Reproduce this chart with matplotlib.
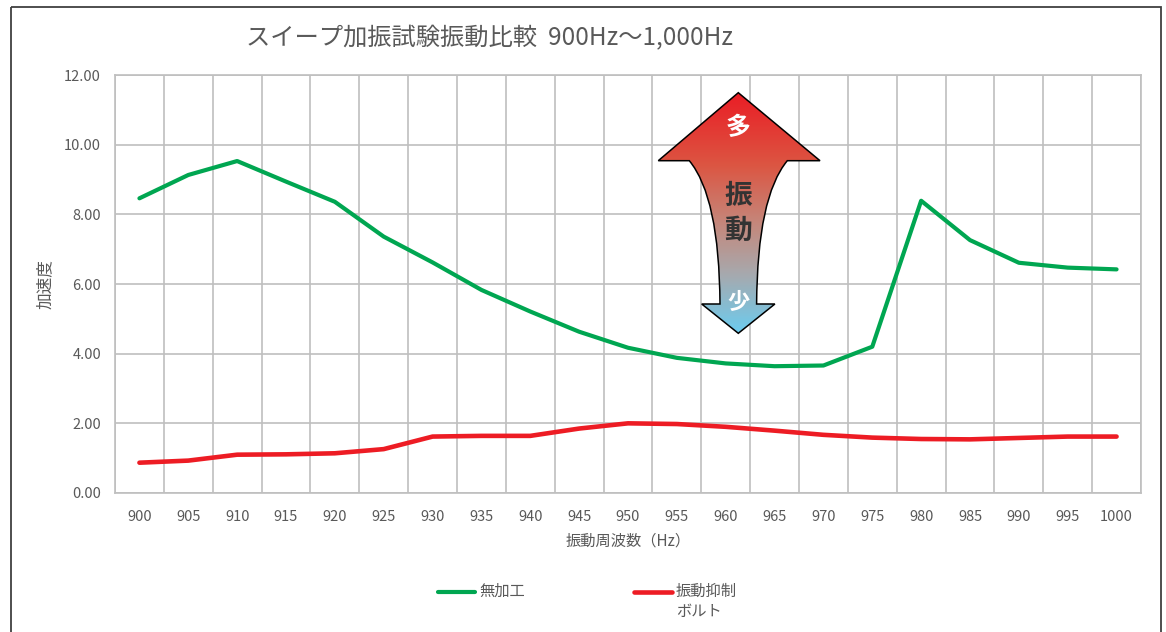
import numpy as np
import matplotlib
matplotlib.use("Agg")
import matplotlib.pyplot as plt
from matplotlib.path import Path
from matplotlib.patches import PathPatch, Rectangle
from matplotlib.colors import LinearSegmentedColormap
from matplotlib.lines import Line2D
from matplotlib.ticker import FuncFormatter, FixedLocator

plt.rcParams['font.family'] = ['Noto Sans CJK JP', 'DejaVu Sans']

# --- data -------------------------------------------------------------
freqs = [900, 905, 910, 915, 920, 925, 930, 935, 940, 945, 950,
         955, 960, 965, 970, 975, 980, 985, 990, 995, 1000]
untreated = [8.46, 9.13, 9.53, 8.94, 8.36, 7.36, 6.62, 5.83, 5.21, 4.63, 4.17,
             3.88, 3.72, 3.64, 3.66, 4.20, 8.39, 7.26, 6.61, 6.47, 6.42]
damping_bolt = [0.87, 0.93, 1.10, 1.11, 1.14, 1.26, 1.62, 1.64, 1.64, 1.85, 2.00,
                1.98, 1.90, 1.79, 1.67, 1.59, 1.55, 1.54, 1.58, 1.62, 1.62]
series_names = ['無加工', '振動抑制\nボルト']
title = 'スイープ加振試験振動比較  900Hz～1,000Hz'
xlabel = '振動周波数（Hz）'
ylabel = '加速度'

W, H = 1166, 632
TXT = '#595959'
GRID = '#BFBFBF'
GREEN = '#00A651'
RED = '#ED1C24'

fig = plt.figure(figsize=(W / 100, H / 100), dpi=100)

# --- main chart -------------------------------------------------------
L, R, T, B = 115, 1141, 75, 493
ax = fig.add_axes([L / W, 1 - B / H, (R - L) / W, (B - T) / H])
xs = np.arange(len(freqs))
ax.plot(xs, untreated, color=GREEN, lw=3.0, solid_capstyle='round',
        solid_joinstyle='round', zorder=3)
ax.plot(xs, damping_bolt, color=RED, lw=3.3, solid_capstyle='round',
        solid_joinstyle='round', zorder=3)

ax.set_ylim(0, 12)
ax.set_yticks(np.arange(0, 12.01, 2))
ax.yaxis.set_major_formatter(FuncFormatter(lambda v, p: f'{v:.2f}'))
ax.set_xlim(-0.5, len(freqs) - 0.5)
ax.set_xticks(xs)
ax.set_xticklabels([str(f) for f in freqs])
ax.xaxis.set_minor_locator(FixedLocator(np.arange(-0.5, len(freqs), 1.0)))
ax.grid(which='major', axis='y', color=GRID, lw=1.2)
ax.grid(which='minor', axis='x', color=GRID, lw=1.2)
ax.tick_params(which='both', length=0, colors=TXT, labelsize=10.5)
ax.tick_params(axis='y', pad=10)
ax.tick_params(axis='x', pad=12.5)
for s in ax.spines.values():
    s.set_color(GRID)
    s.set_linewidth(1.2)
ax.set_axisbelow(True)
ax.set_xlabel(xlabel, color=TXT, fontsize=11, labelpad=6)

# --- overlay in pixel coordinates --------------------------------------
ov = fig.add_axes([0, 0, 1, 1], zorder=5)
ov.set_facecolor('none')
ov.axis('off')

# chart frame
ov.add_patch(Rectangle((10.5, 6.5), 1150.5, 700, fill=False,
                       ec='#404040', lw=1.3))

ov.text(490, 38, title, ha='center', va='center', fontsize=17.5, color=TXT)
ov.text(45, 284, ylabel, ha='center', va='center', rotation=90,
        fontsize=12, color=TXT)

# legend
ov.add_line(Line2D([438, 475], [591.5, 591.5], color=GREEN, lw=3.0,
                   solid_capstyle='round'))
ov.text(479, 591.5, series_names[0], ha='left', va='center', fontsize=11, color=TXT)
ov.add_line(Line2D([634, 672], [591.5, 591.5], color=RED, lw=3.3,
                   solid_capstyle='round'))
ov.text(676, 591.5, series_names[1].split('\n')[0], ha='left', va='center',
        fontsize=11, color=TXT)
ov.text(676, 611.5, series_names[1].split('\n')[1], ha='left', va='center',
        fontsize=11, color=TXT)

# double-headed arrow with concave shaft
cx = 738.3
tip_t, head_t, head_b, tip_b = 92.7, 160.7, 304.0, 333.3
verts = [
    (cx, tip_t),
    (820.0, head_t),
    (2 * cx - 689.3, head_t),
    (2 * cx - 719.3, 196.7), (2 * cx - 720.0, head_b),
    (2 * cx - 701.7, head_b),
    (cx, tip_b),
    (701.7, head_b),
    (720.0, head_b),
    (719.3, 196.7), (689.3, head_t),
    (658.3, head_t),
    (cx, tip_t),
]
codes = [Path.MOVETO, Path.LINETO, Path.LINETO,
         Path.CURVE3, Path.CURVE3,
         Path.LINETO, Path.LINETO, Path.LINETO, Path.LINETO,
         Path.CURVE3, Path.CURVE3,
         Path.LINETO, Path.CLOSEPOLY]
arrow_path = Path(verts, codes)
cmap = LinearSegmentedColormap.from_list(
    'vib', [(0.0, '#EA1D25'), (0.3, '#DC5542'), (0.55, '#C4887C'),
            (0.75, '#A8A8AC'), (1.0, '#6CCCEF')])
grad = np.linspace(0, 1, 256).reshape(-1, 1)
im = ov.imshow(grad, cmap=cmap, aspect='auto', origin='upper',
               extent=(655, 823, tip_b, tip_t), zorder=1, interpolation='bilinear')
outline = PathPatch(arrow_path, fc='none', ec='black', lw=1.1, zorder=2,
                    joinstyle='miter')
ov.add_patch(outline)
clip = PathPatch(arrow_path, transform=ov.transData, fc='none', ec='none')
im.set_clip_path(clip)

ov.text(cx, 128, '多', ha='center', va='center', fontsize=18, color='white',
        fontweight='bold', zorder=3)
ov.text(cx, 196, '振', ha='center', va='center', fontsize=20, color='#333333',
        fontweight='bold', zorder=3)
ov.text(cx, 231, '動', ha='center', va='center', fontsize=20, color='#333333',
        fontweight='bold', zorder=3)
ov.text(cx, 302, '少', ha='center', va='center', fontsize=16, color='white',
        fontweight='bold', zorder=3)

ov.set_xlim(0, W)
ov.set_ylim(H, 0)

fig.savefig('out.png', dpi=100, facecolor='white')
